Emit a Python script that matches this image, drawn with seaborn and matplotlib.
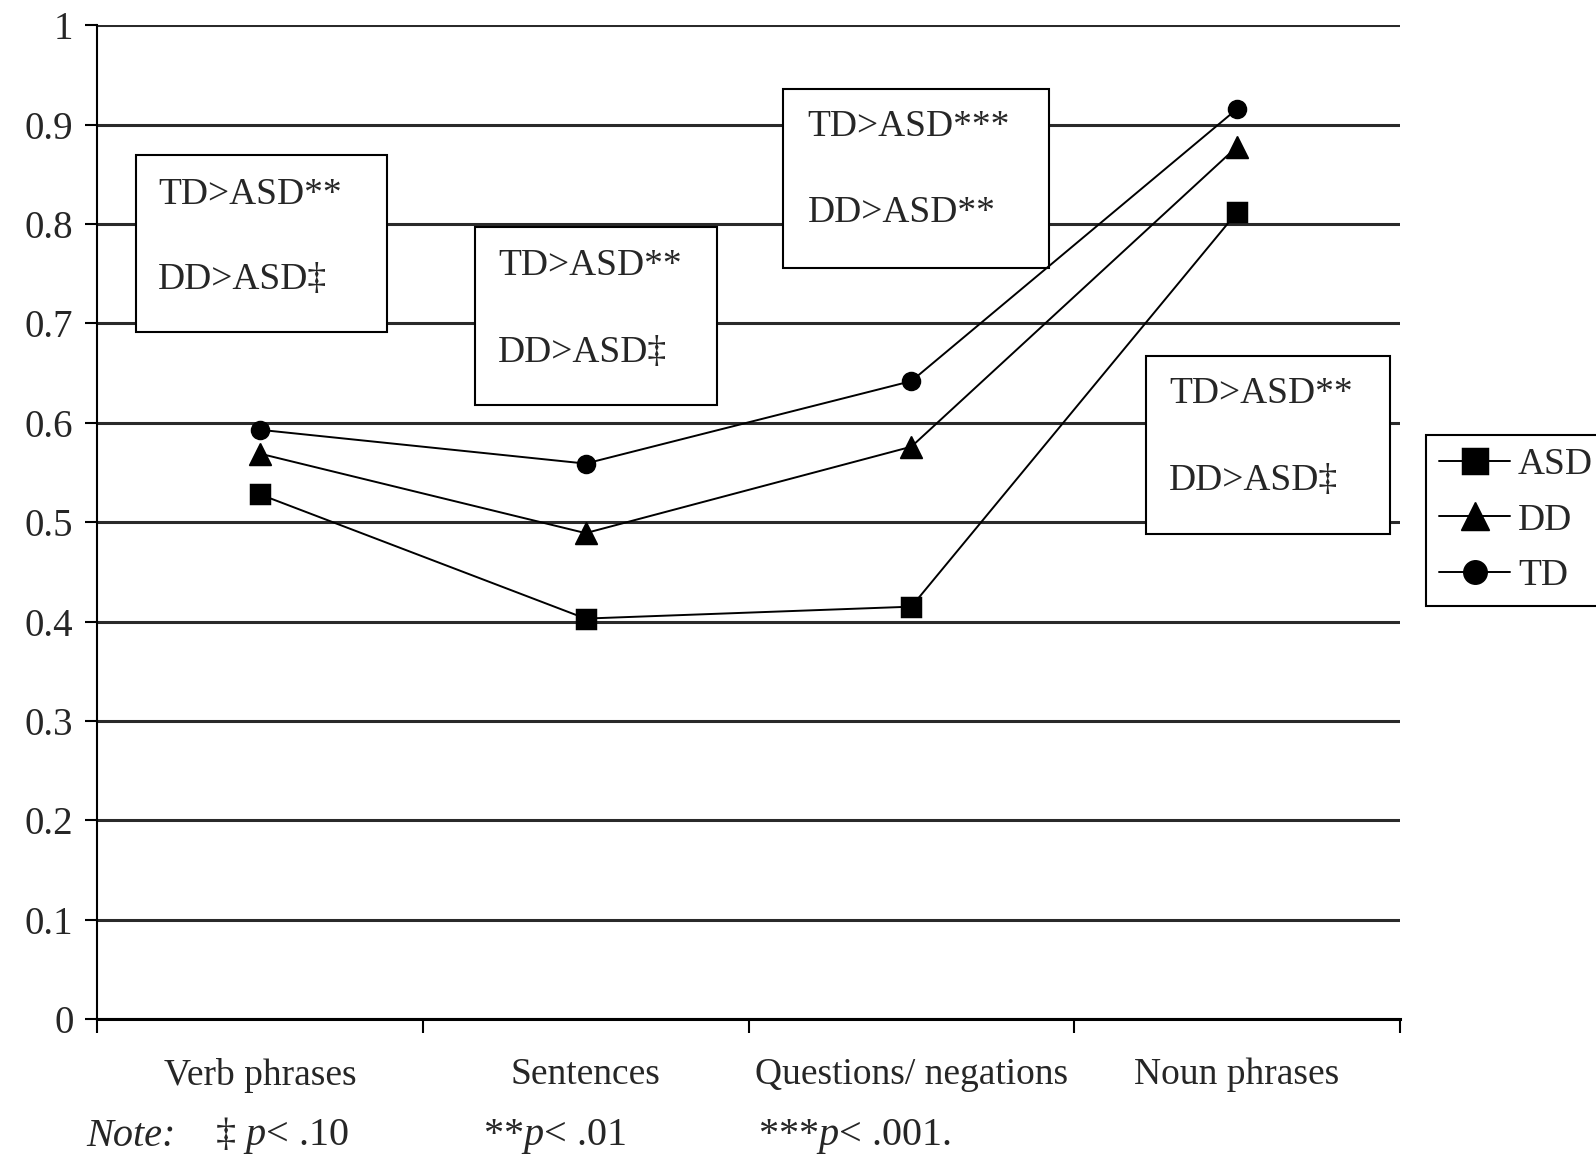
import matplotlib
matplotlib.use("Agg")
import matplotlib.pyplot as plt
from matplotlib.patches import Rectangle
import seaborn as sns
import pandas as pd

# ---- data ----
categories = ["Verb phrases", "Sentences", "Questions/ negations", "Noun phrases"]
groups = ["ASD", "DD", "TD"]
asd = [0.528, 0.403, 0.415, 0.812]
dd = [0.569, 0.489, 0.576, 0.878]
td = [0.593, 0.559, 0.642, 0.916]
y_ticks = [0, 0.1, 0.2, 0.3, 0.4, 0.5, 0.6, 0.7, 0.8, 0.9, 1.0]
y_tick_labels = ["0", "0.1", "0.2", "0.3", "0.4", "0.5", "0.6", "0.7", "0.8", "0.9", "1"]
box_texts = [("TD>ASD**", "DD>ASD\u2021"),
             ("TD>ASD**", "DD>ASD\u2021"),
             ("TD>ASD***", "DD>ASD**"),
             ("TD>ASD**", "DD>ASD\u2021")]
note_label = "Note:"
note_parts = [r"$\ddag$ $\mathit{p}$< .10", r"**$\mathit{p}$< .01", r"***$\mathit{p}$< .001."]

df = pd.DataFrame({
    "category": categories * 3,
    "value": asd + dd + td,
    "group": [g for g in groups for _ in categories],
})

sns.set_style("white")
plt.rcParams["font.family"] = ["Liberation Serif", "DejaVu Serif"]
plt.rcParams["mathtext.fontset"] = "custom"
plt.rcParams["mathtext.rm"] = "Liberation Serif"
plt.rcParams["mathtext.it"] = "Liberation Serif:italic"

FS = 27
fig = plt.figure(figsize=(15.96, 11.58), dpi=100)
ax = fig.add_axes([97 / 1596, 1 - 1019 / 1158, (1400 - 97) / 1596, (1019 - 25.4) / 1158])

sns.pointplot(data=df, x="category", y="value", hue="group", order=categories,
              hue_order=groups, palette=["black"] * 3, markers=["s", "^", "o"],
              linestyles=["-", "-", "-"], dodge=False, errorbar=None,
              markersize=14, linewidth=1.4, ax=ax, legend=False)

msizes = {"ASD": 14, "DD": 16, "TD": 13}
data_lines = [l for l in ax.lines if len(l.get_xdata()) == len(categories)][:3]
for ln, g in zip(data_lines, groups):
    ln.set_markersize(msizes[g])
    ln.set_color("black")
    ln.set_markerfacecolor("black")
    ln.set_markeredgecolor("black")
    ln.set_zorder(4)

ax.set_xlim(-0.5, 3.5)
ax.set_ylim(0, 1)
ax.set_xlabel("")
ax.set_ylabel("")

# y axis
ax.set_yticks(y_ticks, labels=y_tick_labels)
ax.yaxis.grid(True, color="#2a2a2a", linewidth=2.2)
ax.xaxis.grid(False)
ax.set_axisbelow(True)
ax.tick_params(axis="y", direction="out", length=9, width=1.5, pad=8,
               labelsize=28, left=True, color="black")

# x axis: boundary ticks + category labels
ax.set_xticks([-0.5, 0.5, 1.5, 2.5, 3.5], labels=[""] * 5)
ax.set_xticks(range(len(categories)), labels=categories, minor=True)
ax.tick_params(axis="x", which="major", direction="out", length=10, width=1.5,
               bottom=True, color="black")
ax.tick_params(axis="x", which="minor", length=0, pad=28, labelsize=FS)

for s in ["top", "right"]:
    ax.spines[s].set_visible(False)
ax.spines["left"].set_color("black")
ax.spines["left"].set_linewidth(1.5)
ax.spines["bottom"].set_color("black")
ax.spines["bottom"].set_linewidth(2.2)

# annotation boxes (layout positions in data units)
box_rects = [(-0.381, 0.691, 0.772, 0.179),
             (0.659, 0.618, 0.744, 0.179),
             (1.606, 0.756, 0.816, 0.180),
             (2.719, 0.488, 0.750, 0.179)]
text_x = [-0.3125, 0.731, 1.681, 2.791]
text_y = [(0.830, 0.744), (0.758, 0.671), (0.898, 0.811), (0.629, 0.542)]
for (x0, y0, w, h), tx, (ty1, ty2), (t1, t2) in zip(box_rects, text_x, text_y, box_texts):
    ax.add_patch(Rectangle((x0, y0), w, h, facecolor="white", edgecolor="black",
                           linewidth=1.5, zorder=1))
    ax.text(tx, ty1, t1, fontsize=FS, ha="left", va="center", zorder=3)
    ax.text(tx, ty2, t2, fontsize=FS, ha="left", va="center", zorder=3)

# legend
leg = ax.legend(data_lines, groups, loc="upper left", bbox_to_anchor=(1.02, 0.588),
                borderaxespad=0, fontsize=FS, frameon=True, fancybox=False,
                framealpha=1, edgecolor="black", handlelength=1.9, markerscale=1.3,
                handletextpad=0.2, borderpad=0.35, labelspacing=0.55)
leg.get_frame().set_linewidth(1.5)

# note line
note_y = 1 - 1136 / 1158
fig.text(86.5 / 1596, note_y, note_label, fontsize=29, fontstyle="italic",
         ha="left", va="center")
note_x = [215 / 1596, 483 / 1596, 758 / 1596]
for x, t in zip(note_x, note_parts):
    fig.text(x, note_y, t, fontsize=29, ha="left", va="center")

fig.savefig("out.png", dpi=100)
